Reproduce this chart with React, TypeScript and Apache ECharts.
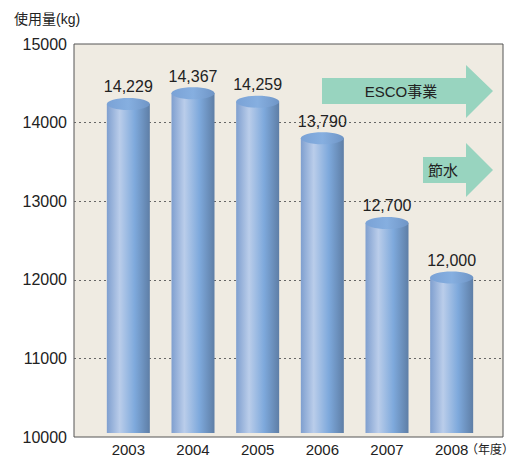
import React, { useEffect, useRef } from "react";
import * as echarts from "echarts";

const years = ["2003", "2004", "2005", "2006", "2007", "2008"];
const usage = [14229, 14367, 14259, 13790, 12700, 12000];
const yTicks = { min: 10000, max: 15000, interval: 1000 };

const FONT = "'Liberation Sans', Arial, 'Noto Sans CJK JP', sans-serif";

export default function App() {
  const ref = useRef<HTMLDivElement>(null);
  useEffect(() => {
    if (!ref.current) return;
    const chart = echarts.init(ref.current, null, { renderer: "svg" });
    const barGrad = new echarts.graphic.LinearGradient(0, 0, 1, 0, [
      { offset: 0, color: "#7f9fcf" },
      { offset: 0.3, color: "#bacdea" },
      { offset: 0.65, color: "#7ea9dc" },
      { offset: 1, color: "#5e7ea6" },
    ]);
    const topGrad = new echarts.graphic.LinearGradient(0, 0, 1, 0, [
      { offset: 0, color: "#7aa2d6" },
      { offset: 0.5, color: "#86afe0" },
      { offset: 1, color: "#6f95c6" },
    ]);
    chart.setOption({
      animation: false,
      textStyle: { fontFamily: FONT },
      grid: [
        {
          left: 74,
          right: 12,
          top: 44,
          bottom: 20,
          show: true,
          backgroundColor: "#efebe2",
          borderColor: "#555",
          borderWidth: 1,
        },
        { left: 96, right: 31, top: 44, bottom: 20 },
      ],
      xAxis: [
        { type: "category", gridIndex: 0, data: years, show: false },
        {
          type: "category",
          gridIndex: 1,
          data: years,
          axisLine: { show: false },
          axisTick: { show: false },
          axisLabel: { color: "#222", fontSize: 15, margin: 9, fontFamily: FONT },
        },
      ],
      yAxis: [
        {
          type: "value",
          gridIndex: 0,
          min: yTicks.min,
          max: yTicks.max,
          interval: yTicks.interval,
          axisLine: { show: false },
          axisTick: { show: false },
          axisLabel: {
            color: "#222",
            fontSize: 16,
            margin: 7,
            fontFamily: FONT,
            formatter: (v: number) => String(v),
          },
          splitLine: {
            show: true,
            showMinLine: false,
            showMaxLine: false,
            lineStyle: { color: "#666", type: [2, 3], width: 1 },
          },
        },
        {
          type: "value",
          gridIndex: 1,
          min: yTicks.min,
          max: yTicks.max,
          interval: yTicks.interval,
          show: false,
        },
      ],
      series: [
        {
          type: "custom",
          xAxisIndex: 1,
          yAxisIndex: 1,
          data: usage.map((v, i) => [i, v]),
          renderItem: (params: any, api: any) => {
            const i = api.value(0);
            const v = api.value(1);
            const top = api.coord([i, v]);
            const bot = api.coord([i, yTicks.min]);
            const bw = api.size([1, 0])[0] * 0.665;
            const ry = 6;
            return {
              type: "group",
              children: [
                {
                  type: "rect",
                  shape: { x: top[0] - bw / 2, y: top[1], width: bw, height: bot[1] - top[1] },
                  style: { fill: barGrad },
                },
                {
                  type: "ellipse",
                  shape: { cx: top[0], cy: top[1], rx: bw / 2, ry },
                  style: { fill: topGrad },
                },
                {
                  type: "text",
                  x: top[0],
                  y: top[1] - 17,
                  style: {
                    text: Number(v).toLocaleString("en-US"),
                    fill: "#222",
                    fontSize: 16,
                    fontFamily: FONT,
                    align: "center",
                    verticalAlign: "middle",
                  },
                },
              ],
            };
          },
        },
      ],
      graphic: [
        {
          type: "text",
          left: 14,
          top: 12,
          style: { text: "使用量(kg)", fill: "#222", fontSize: 14, fontFamily: FONT },
        },
        {
          type: "text",
          left: 466,
          top: 444,
          style: { text: "（年度）", fill: "#222", fontSize: 12, fontFamily: FONT },
        },
        {
          type: "polygon",
          shape: {
            points: [
              [322, 78], [466, 78], [466, 65], [493, 91], [466, 118], [466, 104], [322, 104],
            ],
          },
          style: { fill: "#98d4bf" },
        },
        {
          type: "text",
          x: 401,
          y: 91,
          style: {
            text: "ESCO事業",
            fill: "#222",
            fontSize: 15,
            fontFamily: FONT,
            align: "center",
            verticalAlign: "middle",
          },
        },
        {
          type: "polygon",
          shape: {
            points: [
              [423, 157], [466, 157], [466, 143], [493, 170], [466, 197], [466, 183], [423, 183],
            ],
          },
          style: { fill: "#98d4bf" },
        },
        {
          type: "text",
          x: 443,
          y: 170,
          style: {
            text: "節水",
            fill: "#222",
            fontSize: 15,
            fontFamily: FONT,
            align: "center",
            verticalAlign: "middle",
          },
        },
      ],
    });
    return () => chart.dispose();
  }, []);
  return <div ref={ref} style={{ width: 515, height: 457, position: "absolute", left: 0, top: 0 }} />;
}
